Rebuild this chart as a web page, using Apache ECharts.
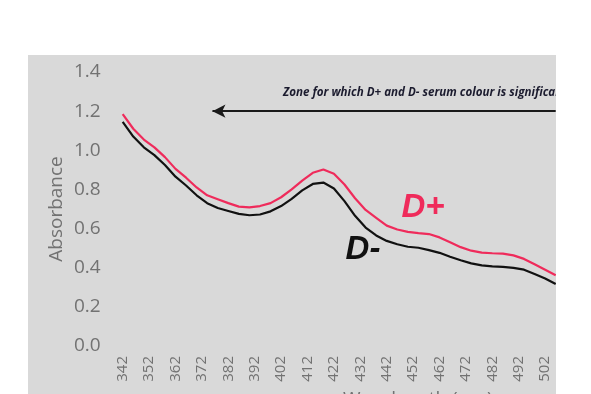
<!DOCTYPE html>
<html>
<head>
<meta charset="utf-8">
<script src="https://cdn.jsdelivr.net/npm/echarts@6/dist/echarts.min.js"></script>
<style>
  html, body { margin: 0; padding: 0; background: #ffffff; }
  #chart { width: 591px; height: 394px; }
</style>
</head>
<body>
<div id="chart"></div>
<script>
// Wavelength sampling (nm)
const wavelengths = [342, 346, 350, 354, 358, 362, 366, 370, 374, 378, 382, 386, 390, 394,
  398, 402, 406, 410, 414, 418, 422, 426, 430, 434, 438, 442, 446, 450, 454, 458, 462,
  466, 470, 474, 478, 482, 486, 490, 494, 498, 502, 506];

// Absorbance of D+ serum
const dPlus = [1.185, 1.11, 1.055, 1.015, 0.965, 0.905, 0.86, 0.81, 0.77, 0.75, 0.73, 0.712,
  0.708, 0.715, 0.73, 0.76, 0.80, 0.845, 0.885, 0.902, 0.88, 0.825, 0.755, 0.695, 0.655,
  0.615, 0.595, 0.583, 0.577, 0.572, 0.555, 0.53, 0.505, 0.487, 0.477, 0.474, 0.472,
  0.463, 0.445, 0.418, 0.39, 0.362];

// Absorbance of D- serum
const dMinus = [1.145, 1.07, 1.015, 0.975, 0.925, 0.865, 0.82, 0.77, 0.73, 0.705, 0.69, 0.675,
  0.668, 0.672, 0.688, 0.715, 0.752, 0.795, 0.828, 0.835, 0.805, 0.74, 0.665, 0.605, 0.565,
  0.537, 0.52, 0.507, 0.502, 0.49, 0.476, 0.456, 0.438, 0.422, 0.412, 0.407, 0.404, 0.399,
  0.39, 0.368, 0.345, 0.317];

// Tick labels on the wavelength axis
const xTickLabels = [342, 352, 362, 372, 382, 392, 402, 412, 422, 432, 442, 452, 462, 472, 482, 492, 502];

// Zone arrow (wavelength start/end, absorbance level)
const zoneArrow = { from: 376, to: 506, level: 1.2 };
const zoneText = 'Zone for which D+ and D- serum colour is significant';

const axisTextColor = '#727272';
const plusColor = '#ef2b5b';
const minusColor = '#111111';

const chart = echarts.init(document.getElementById('chart'), null, { renderer: 'canvas' });

const pairs = (ys) => wavelengths.map((w, i) => [w, ys[i]]);

chart.setOption({
  animation: false,
  backgroundColor: '#ffffff',
  grid: { left: 122.7, right: 35.3, top: 72, bottom: 48, containLabel: false },
  xAxis: {
    type: 'value',
    min: 342,
    max: 506,
    axisLine: { show: false },
    axisTick: { show: false },
    splitLine: { show: false },
    axisLabel: {
      customValues: xTickLabels,
      rotate: 90,
      margin: 10,
      color: axisTextColor,
      fontFamily: 'Open Sans',
      fontSize: 15
    }
  },
  yAxis: {
    type: 'value',
    min: 0,
    max: 1.4,
    interval: 0.2,
    axisLine: { show: false },
    axisTick: { show: false },
    splitLine: { show: false },
    axisLabel: {
      margin: 22,
      color: axisTextColor,
      fontFamily: 'Open Sans',
      fontSize: 19,
      formatter: (v) => v.toFixed(1)
    }
  },
  graphic: [
    {
      type: 'rect', z: -10, silent: true,
      shape: { x: 28, y: 55, width: 528, height: 339 },
      style: { fill: '#d9d9d9' }
    },
    {
      type: 'text', silent: true, z: 10,
      x: 57, y: 209, rotation: Math.PI / 2,
      style: {
        text: 'Absorbance', fill: axisTextColor,
        font: '19px "Open Sans"', align: 'center', verticalAlign: 'middle'
      }
    },
    {
      type: 'text', silent: true, z: 10,
      x: 343, y: 390.5,
      style: {
        text: 'Wavelength (nm)', fill: axisTextColor,
        font: '19px "Open Sans"', align: 'left', verticalAlign: 'top'
      }
    },
    {
      type: 'text', silent: true, z: 10,
      x: 283, y: 93,
      style: {
        text: zoneText, fill: '#1b1b2e',
        font: 'italic bold 11.6px "Open Sans"', align: 'left', verticalAlign: 'middle'
      }
    },
    {
      type: 'text', silent: true, z: 10,
      x: 423, y: 208,
      style: {
        text: 'D+', fill: plusColor,
        font: 'italic bold 33px "Liberation Sans"', align: 'center', verticalAlign: 'middle'
      }
    },
    {
      type: 'text', silent: true, z: 10,
      x: 363, y: 250,
      style: {
        text: 'D-', fill: minusColor,
        font: 'italic bold 33px "Liberation Sans"', align: 'center', verticalAlign: 'middle'
      }
    },
    {
      // white margin to the right of the plot panel
      type: 'rect', silent: true, z: 50,
      shape: { x: 556, y: 0, width: 35, height: 394 },
      style: { fill: '#ffffff' }
    }
  ],
  series: [
    {
      name: 'D+',
      type: 'line',
      data: pairs(dPlus),
      showSymbol: false,
      lineStyle: { color: plusColor, width: 2.2 },
      itemStyle: { color: plusColor },
      z: 3
    },
    {
      name: 'D-',
      type: 'line',
      data: pairs(dMinus),
      showSymbol: false,
      lineStyle: { color: minusColor, width: 2.2 },
      itemStyle: { color: minusColor },
      z: 3,
      markLine: {
        silent: true,
        symbol: ['arrow', 'none'],
        symbolSize: [10, 13],
        label: { show: false },
        lineStyle: { color: '#1a1a1a', width: 2, type: 'solid' },
        data: [[
          { coord: [zoneArrow.from, zoneArrow.level] },
          { coord: [zoneArrow.to, zoneArrow.level] }
        ]]
      }
    }
  ]
});
</script>
</body>
</html>
